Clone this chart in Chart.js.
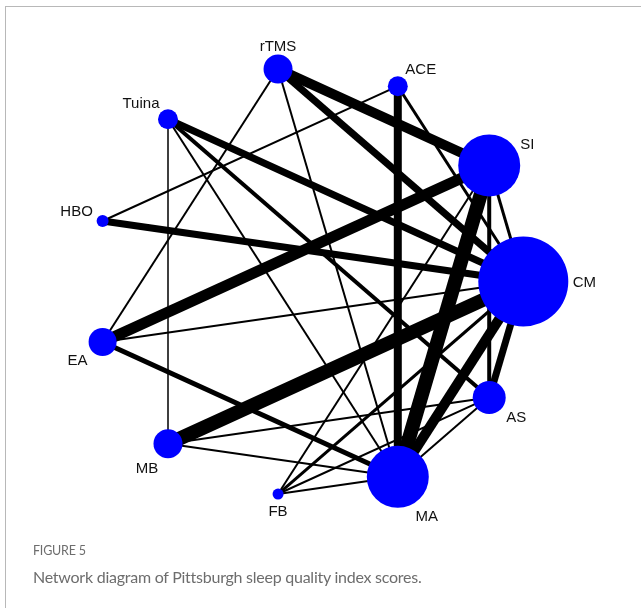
<!DOCTYPE html>
<html>
<head>
<meta charset="utf-8">
<script src="https://cdn.jsdelivr.net/npm/chart.js@4.4.1/dist/chart.umd.min.js"></script>
<style>
  html, body { margin: 0; padding: 0; background: #ffffff; }
  body { width: 641px; height: 608px; position: relative; overflow: hidden; }
  #frame { position: absolute; left: 5px; top: 6px; width: 700px; height: 700px;
           border-top: 1px solid #b8b8b8; border-left: 1px solid #b8b8b8; }
  #chart { position: absolute; left: 0; top: 0; }
  #figlabel { position: absolute; left: 33px; top: 542px; font-family: Lato, sans-serif;
              font-size: 12.5px; letter-spacing: -0.2px; color: #6d6d6d; line-height: 18px; }
  #caption { position: absolute; left: 33px; top: 566px; font-family: Lato, sans-serif;
             font-size: 16px; letter-spacing: -0.25px; color: #6d6d6d; line-height: 22px; white-space: nowrap; }
</style>
</head>
<body>
<div id="frame"></div>
<canvas id="chart" width="641" height="608"></canvas>
<div id="figlabel">FIGURE 5</div>
<div id="caption">Network diagram of Pittsburgh sleep quality index scores.</div>
<script>
// ---- data ----
const treatments = ['CM', 'SI', 'ACE', 'rTMS', 'Tuina', 'HBO', 'EA', 'MB', 'FB', 'MA', 'AS'];
const nodeRadius = [45, 31, 10, 14.5, 10, 6, 14, 14.5, 5.5, 31, 16.5];
const edgeFrom  = ['rTMS','rTMS','rTMS','rTMS','ACE','ACE','ACE','Tuina','Tuina','Tuina','Tuina','HBO','EA','EA','EA','MB','MB','MB','FB','FB','FB','FB','SI','SI','SI','CM','CM','MA'];
const edgeTo    = ['SI','CM','EA','MA','MA','HBO','CM','CM','AS','MA','MB','CM','SI','CM','MA','CM','AS','MA','SI','CM','AS','MA','MA','CM','AS','MA','AS','AS'];
const edgeWidth = [10, 7, 2, 2, 8, 2, 3, 7, 4, 2, 1.5, 7, 11, 2, 5, 14, 2, 2, 2, 3, 2, 2, 14, 3, 4, 10, 7, 2];
const labelDx = [61, 38, 23, 0, -27, -26, -25, -21, 0, 29, 27];
const labelDy = [1, -21, -16, -22, -15, -9, 19, 25, 18, 40, 20];

// ---- circular layout (unit circle, evenly spaced) ----
const n = treatments.length;
const pos = treatments.map((t, i) => ({ x: Math.cos(2 * Math.PI * i / n), y: Math.sin(2 * Math.PI * i / n) }));
const idx = name => treatments.indexOf(name);

// view: unit circle radius in px and center
const W = 641, H = 608, R = 214.7, CX = 308.6, CY = 281.5;

const edgeSets = edgeFrom.map((f, k) => ({
  type: 'line',
  data: [pos[idx(f)], pos[idx(edgeTo[k])]],
  borderColor: '#000000',
  borderWidth: edgeWidth[k],
  borderCapStyle: 'butt',
  pointRadius: 0,
  pointHoverRadius: 0,
  showLine: true,
  fill: false,
  tension: 0
}));

const nodeSet = {
  type: 'bubble',
  data: pos.map((p, i) => ({ x: p.x, y: p.y, r: nodeRadius[i] })),
  backgroundColor: '#0000ff',
  borderColor: '#0000ff',
  borderWidth: 0,
  hoverRadius: 0
};

const labelPlugin = {
  id: 'nodeLabels',
  afterDatasetsDraw(chart) {
    const ctx = chart.ctx;
    const xs = chart.scales.x, ys = chart.scales.y;
    ctx.save();
    ctx.font = '15px "Liberation Sans", Arial, sans-serif';
    ctx.fillStyle = '#111111';
    ctx.textAlign = 'center';
    ctx.textBaseline = 'middle';
    treatments.forEach((t, i) => {
      const px = xs.getPixelForValue(pos[i].x) + labelDx[i];
      const py = ys.getPixelForValue(pos[i].y) + labelDy[i];
      ctx.fillText(t, px, py);
    });
    ctx.restore();
  }
};

new Chart(document.getElementById('chart'), {
  type: 'bubble',
  data: { datasets: [nodeSet, ...edgeSets] },
  options: {
    responsive: false,
    animation: false,
    devicePixelRatio: 1,
    layout: { padding: 0, autoPadding: false },
    plugins: { legend: { display: false }, tooltip: { enabled: false } },
    events: [],
    scales: {
      x: { type: 'linear', display: false, min: -CX / R, max: (W - CX) / R },
      y: { type: 'linear', display: false, min: -(H - CY) / R, max: CY / R }
    }
  },
  plugins: [labelPlugin]
});
</script>
</body>
</html>
